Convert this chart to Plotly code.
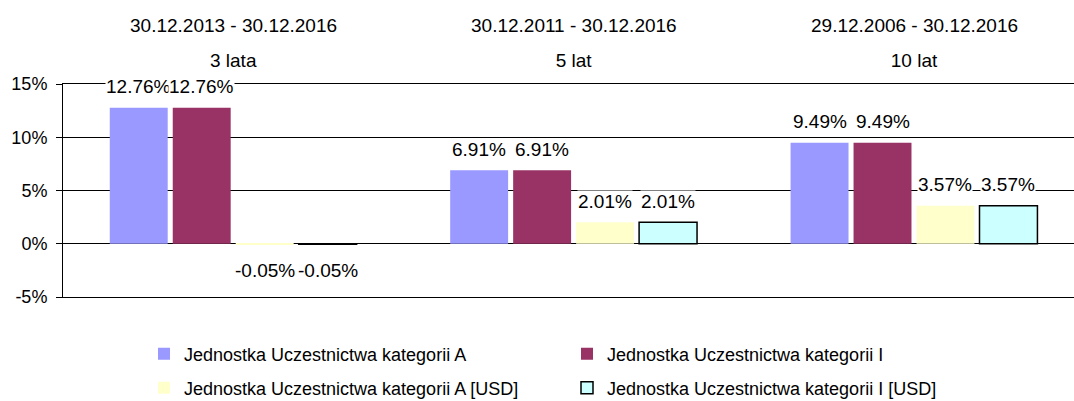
import plotly.graph_objects as go

periods = ["3 lata", "5 lat", "10 lat"]
date_ranges = ["30.12.2013 - 30.12.2016", "30.12.2011 - 30.12.2016", "29.12.2006 - 30.12.2016"]
series_names = [
    "Jednostka Uczestnictwa kategorii A",
    "Jednostka Uczestnictwa kategorii I",
    "Jednostka Uczestnictwa kategorii A [USD]",
    "Jednostka Uczestnictwa kategorii I [USD]",
]
vals_A = [12.76, 6.91, 9.49]
vals_I = [12.76, 6.91, 9.49]
vals_A_usd = [-0.05, 2.01, 3.57]
vals_I_usd = [-0.05, 2.01, 3.57]
y_ticks = [-5, 0, 5, 10, 15]
y_ticktext = ["-5%", "0%", "5%", "10%", "15%"]

colors = ["#9999FF", "#993366", "#FFFFCC", "#CCFFFF"]
line_w = [0, 0, 0, 1.5]
legends = ["legend", "legend", "legend2", "legend2"]
all_vals = [vals_A, vals_I, vals_A_usd, vals_I_usd]

FONT = "Arial, Liberation Sans, sans-serif"
W, H = 1074, 401
ML, MR, MT, MB = 63, 0, 84, 104
XR = [-0.5, 2.47]
BARGAP = 0.26
BGGAP = 0.08

fig = go.Figure()
for name, vals, c, lw, lg in zip(series_names, all_vals, colors, line_w, legends):
    fig.add_trace(go.Bar(
        x=periods, y=vals, name=name, legend=lg,
        marker=dict(color=c, line=dict(color="black", width=lw)),
    ))

# value labels with white background (cover gridlines like the original)
cat_px = (W - ML - MR) / (XR[1] - XR[0])
slot = cat_px * (1 - BARGAP) / 4
plot_h = H - MT - MB
anns = []
for si, vals in enumerate(all_vals):
    for ci, v in enumerate(vals):
        anns.append(dict(
            x=periods[ci], y=v, xref="x", yref="y",
            text=f"{v:.2f}%", showarrow=False,
            xshift=(si - 1.5) * slot, yshift=21 if v >= 0 else -26,
            bgcolor="white", borderpad=0,
            font=dict(family=FONT, size=19, color="black"),
        ))
for ci, d in enumerate(date_ranges):
    anns.append(dict(
        x=periods[ci], y=1 + (MT - 25) / plot_h, xref="x", yref="paper",
        yanchor="middle", text=d, showarrow=False,
        font=dict(family=FONT, size=19, color="black"),
    ))

fig.update_layout(
    width=W, height=H,
    margin=dict(l=ML, r=MR, t=MT, b=MB, autoexpand=False),
    plot_bgcolor="white", paper_bgcolor="white",
    barmode="group", bargap=BARGAP, bargroupgap=BGGAP,
    font=dict(family=FONT, size=18, color="black"),
    annotations=anns,
    xaxis=dict(
        type="category", range=XR, side="top",
        showline=True, mirror=True, linecolor="black", linewidth=1,
        showgrid=False, ticks="", tickfont=dict(size=19),
        ticklabelstandoff=8,
    ),
    yaxis=dict(
        range=[-5, 15], tickvals=y_ticks, ticktext=y_ticktext,
        showgrid=True, gridcolor="black", gridwidth=1,
        zeroline=True, zerolinecolor="black", zerolinewidth=1,
        showline=True, linecolor="black", linewidth=1,
        ticks="outside", ticklen=6, tickcolor="black",
        ticklabelstandoff=5,
        tickfont=dict(size=18),
    ),
    legend=dict(
        orientation="h", xref="container", yref="container",
        x=144 / W, y=1 - 354 / H, xanchor="left", yanchor="middle",
        entrywidth=378, entrywidthmode="pixels", itemwidth=30,
        font=dict(size=18), bgcolor="rgba(0,0,0,0)",
    ),
    legend2=dict(
        orientation="h", xref="container", yref="container",
        x=144 / W, y=1 - 388 / H, xanchor="left", yanchor="middle",
        entrywidth=378, entrywidthmode="pixels", itemwidth=30,
        font=dict(size=18), bgcolor="rgba(0,0,0,0)",
    ),
    showlegend=True,
)

fig.write_html("out.html", config={"displayModeBar": False},
               post_script="document.body.style.margin='0';")
